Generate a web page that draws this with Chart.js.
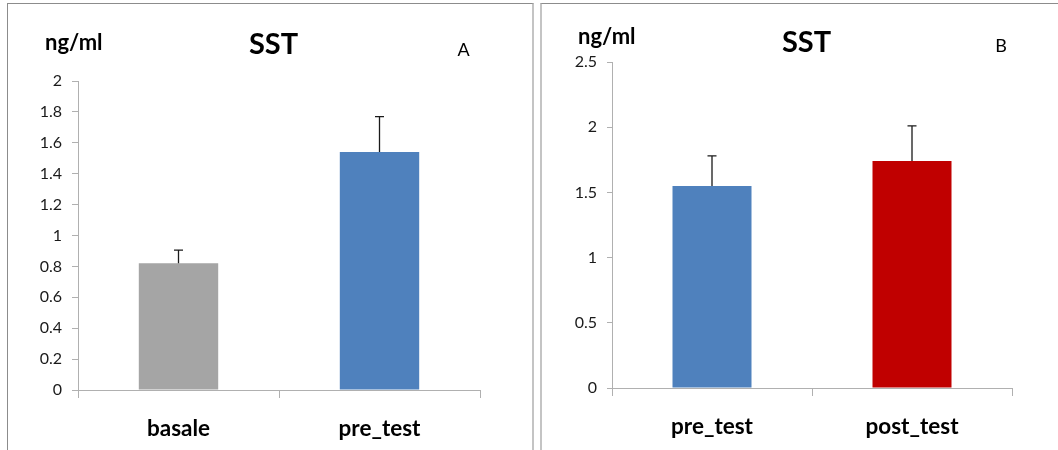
<!DOCTYPE html>
<html>
<head>
<meta charset="utf-8">
<script src="https://cdn.jsdelivr.net/npm/chart.js@4"></script>
<style>
  body { margin: 0; background: #fff; width: 1058px; height: 450px; overflow: hidden; position: relative; }
  .panel { position: absolute; top: 3px; height: 470px; border-top: 1px solid #8c8c8c; box-sizing: border-box; }
  #panelA { left: 7px; width: 527px; border-left: 1px solid #8c8c8c; border-right: 2px solid #c4c4c4; }
  #panelB { left: 540px; width: 530px; border-left: 2px solid #c4c4c4; }
  .wrap { position: absolute; top: 0; height: 450px; }
  #wrapA { left: 0; width: 536px; }
  #wrapB { left: 538px; width: 520px; }
</style>
</head>
<body>
<div class="panel" id="panelA"></div>
<div class="panel" id="panelB"></div>
<div class="wrap" id="wrapA"><canvas id="chartA"></canvas></div>
<div class="wrap" id="wrapB"><canvas id="chartB"></canvas></div>
<script>
// --- Datos ---
const labelsA = ['basale', 'pre_test'];
const valuesA = [0.82, 1.54];
const errA = [0.085, 0.23];
const colorsA = ['#A5A5A5', '#4F81BD'];
const yTicksA = ['0', '0.2', '0.4', '0.6', '0.8', '1', '1.2', '1.4', '1.6', '1.8', '2'];

const labelsB = ['pre_test', 'post_test'];
const valuesB = [1.55, 1.74];
const errB = [0.23, 0.27];
const colorsB = ['#4F81BD', '#C00000'];
const yTicksB = ['0', '0.5', '1', '1.5', '2', '2.5'];

const FONT = 'Lato, "Open Sans", sans-serif';
const axisColor = '#b0b0b0';

// barras de error (solo hacia arriba)
const errorBars = {
  id: 'errorBars',
  afterDatasetsDraw(chart, args, opts) {
    const ctx = chart.ctx;
    const meta = chart.getDatasetMeta(0);
    const y = chart.scales.y;
    const vals = chart.data.datasets[0].data;
    ctx.save();
    ctx.strokeStyle = '#1a1a1a';
    ctx.lineWidth = 1.3;
    meta.data.forEach((bar, i) => {
      const top = y.getPixelForValue(vals[i] + opts.errors[i]);
      const base = y.getPixelForValue(vals[i]);
      ctx.beginPath();
      ctx.moveTo(bar.x, base);
      ctx.lineTo(bar.x, top);
      ctx.moveTo(bar.x - 4.5, top);
      ctx.lineTo(bar.x + 4.5, top);
      ctx.stroke();
    });
    ctx.restore();
  }
};

// textos del panel: unidad, título y letra
const panelText = {
  id: 'panelText',
  afterDraw(chart, args, opts) {
    const ctx = chart.ctx;
    ctx.save();
    ctx.fillStyle = '#000';
    ctx.textBaseline = 'middle';
    ctx.font = 'bold 22px ' + FONT;
    ctx.textAlign = 'left';
    ctx.fillText('ng/ml', opts.unit[0], opts.unit[1]);
    ctx.font = 'bold 29px ' + FONT;
    ctx.textAlign = 'center';
    ctx.fillText('SST', opts.title[0], opts.title[1]);
    ctx.font = '18px ' + FONT;
    ctx.fillText(opts.letter, opts.letterPos[0], opts.letterPos[1]);
    ctx.restore();
  }
};

function makeChart(id, labels, values, colors, errors, yMax, step, yTicks, geo) {
  return new Chart(document.getElementById(id), {
    type: 'bar',
    data: {
      labels: labels,
      datasets: [{
        data: values,
        backgroundColor: colors,
        borderWidth: 0,
        barPercentage: 0.395,
        categoryPercentage: 1
      }]
    },
    options: {
      responsive: true,
      maintainAspectRatio: false,
      animation: false,
      layout: { padding: geo.padding },
      plugins: {
        legend: { display: false },
        tooltip: { enabled: false },
        errorBars: { errors: errors },
        panelText: geo.text
      },
      scales: {
        y: {
          min: 0,
          max: yMax,
          afterFit: s => { s.width = geo.yWidth; },
          grid: { drawOnChartArea: false, tickLength: geo.tick, color: axisColor },
          border: { color: axisColor },
          ticks: {
            stepSize: step,
            padding: 10,
            color: '#1a1a1a',
            font: { family: FONT, size: 16 },
            callback: (v, i) => yTicks[i]
          }
        },
        x: {
          afterFit: s => { s.height = geo.xHeight; },
          grid: { drawOnChartArea: false, offset: true, tickLength: 8, color: axisColor },
          border: { color: axisColor },
          ticks: {
            padding: 17,
            color: '#000',
            font: { family: FONT, size: 22.5, weight: 'bold' }
          }
        }
      }
    },
    plugins: [errorBars, panelText]
  });
}

makeChart('chartA', labelsA, valuesA, colorsA, errA, 2, 0.2, yTicksA, {
  padding: { left: 0, right: 56, top: 81, bottom: 0 },
  yWidth: 78, xHeight: 60, tick: 6,
  text: { unit: [45, 43], title: [273.5, 45], letter: 'A', letterPos: [463.5, 50] }
});

makeChart('chartB', labelsB, valuesB, colorsB, errB, 2.5, 0.5, yTicksB, {
  padding: { left: 0, right: 46, top: 62, bottom: 0 },
  yWidth: 74, xHeight: 62, tick: 5,
  text: { unit: [40, 37], title: [268.5, 43], letter: 'B', letterPos: [463, 46] }
});
</script>
</body>
</html>
